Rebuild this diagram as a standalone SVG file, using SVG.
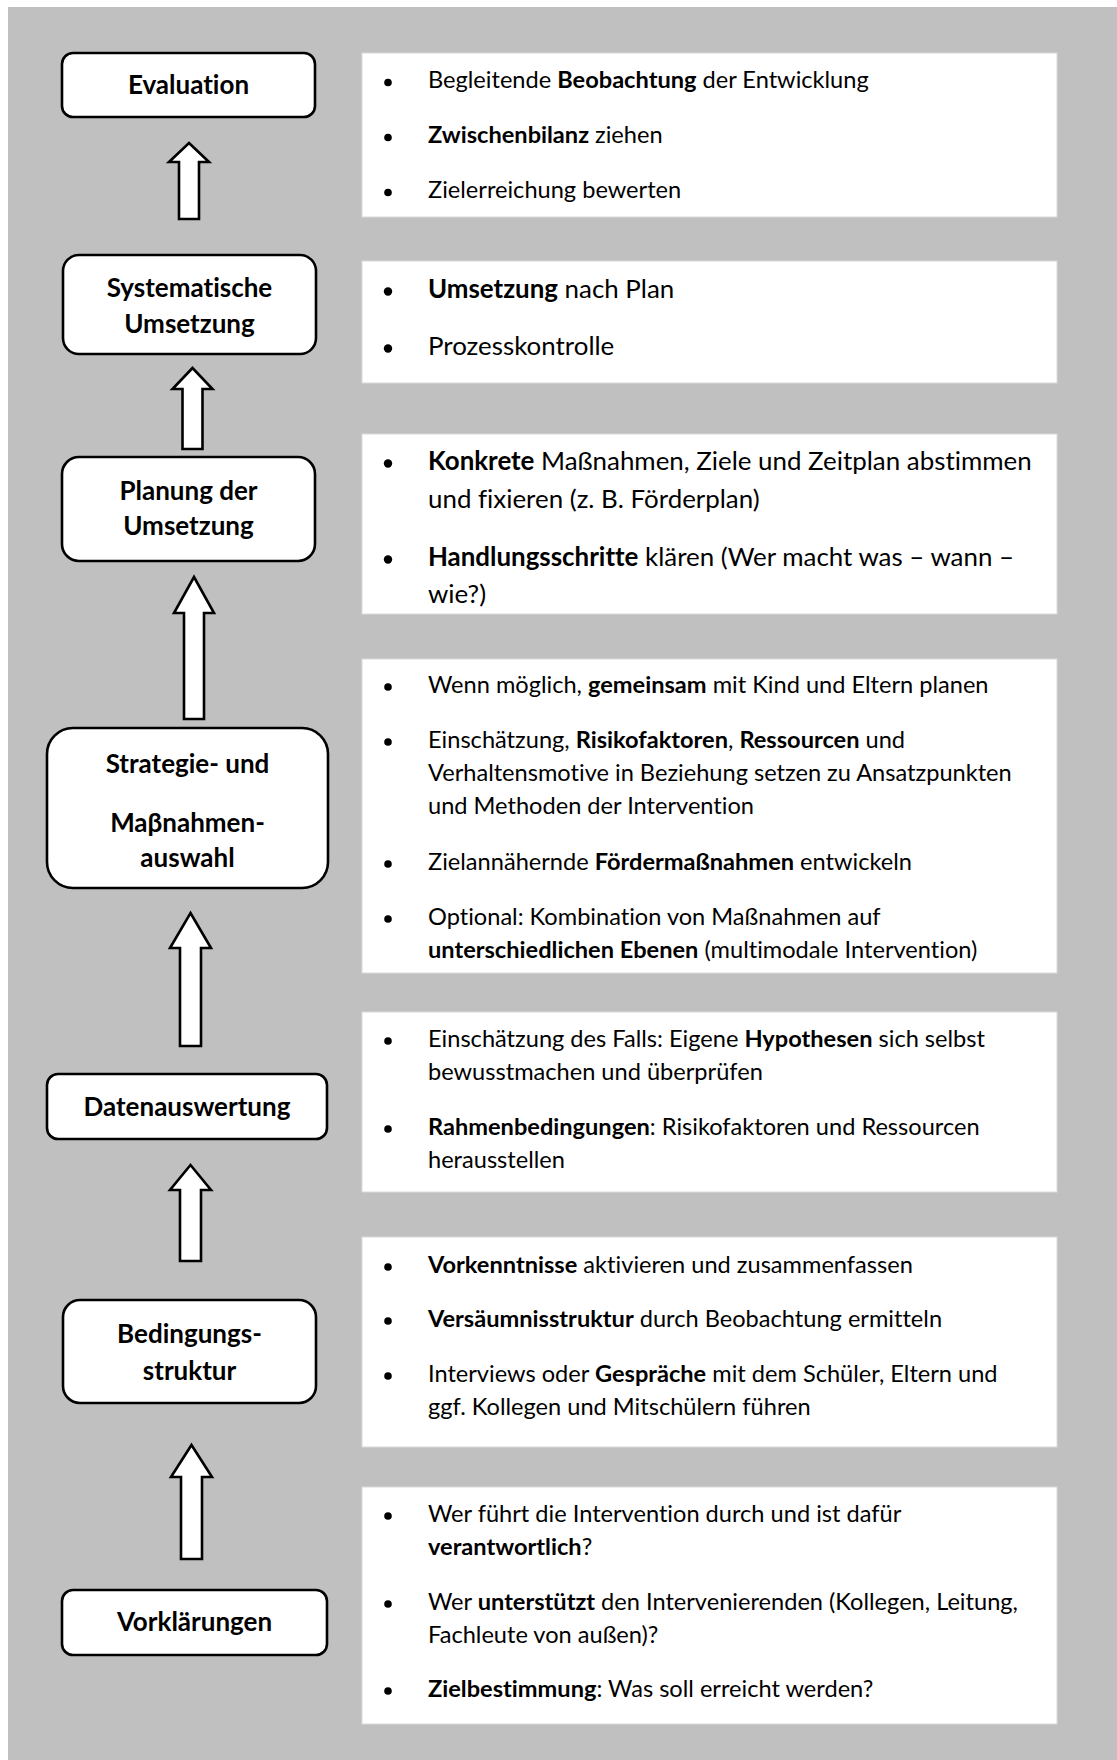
<svg xmlns="http://www.w3.org/2000/svg" width="1117" height="1760" viewBox="0 0 1117 1760">
<style>
text{font-variant-ligatures:none}
.node{fill:#fff;stroke:#000;stroke-width:2.6}
.lbl{font-family:Lato,"Liberation Sans",sans-serif;font-weight:bold;font-size:26px;fill:#000;text-anchor:middle}
.panel{fill:#fff;stroke:#dadada;stroke-width:1}
.t{font-family:Lato,"Liberation Sans",sans-serif;font-size:23.6px;fill:#000}
.t2{font-family:Lato,"Liberation Sans",sans-serif;font-size:25.9px;fill:#000}
.b{font-weight:bold}
.dot{fill:#000}
.arrow{fill:#fff;stroke:#000;stroke-width:2.6;stroke-linejoin:miter}
</style>
<rect x="8" y="7" width="1109" height="1753" fill="#c0c0c0"/>

<g id="connectors">
<path class="arrow" d="M189,143 L209,162 L199,162 L199,219 L179,219 L179,162 L169,162 Z"/>
<path class="arrow" d="M192.5,368 L212.5,389 L202.5,389 L202.5,449 L182.5,449 L182.5,389 L172.5,389 Z"/>
<path class="arrow" d="M194,577 L214,613 L204,613 L204,719 L184,719 L184,613 L174,613 Z"/>
<path class="arrow" d="M190.5,913 L211,948 L201,948 L201,1046 L180,1046 L180,948 L170,948 Z"/>
<path class="arrow" d="M190.5,1165 L211,1190 L201,1190 L201,1261 L180,1261 L180,1190 L170,1190 Z"/>
<path class="arrow" d="M191.5,1445 L212,1477 L202,1477 L202,1559 L181,1559 L181,1477 L171,1477 Z"/>
</g>

<g id="node-evaluation">
<rect class="node" x="62" y="53" width="253" height="64" rx="11"/>
<text class="lbl" x="188.5" y="94">Evaluation</text>
</g>
<g id="node-systematische-umsetzung">
<rect class="node" x="63" y="255" width="253" height="99" rx="16"/>
<text class="lbl" x="189.5" y="297">Systematische</text>
<text class="lbl" x="189.5" y="333">Umsetzung</text>
</g>
<g id="node-planung">
<rect class="node" x="62" y="457" width="253" height="104" rx="17"/>
<text class="lbl" x="188.5" y="500">Planung der</text>
<text class="lbl" x="188.5" y="535">Umsetzung</text>
</g>
<g id="node-strategie">
<rect class="node" x="47" y="728" width="281" height="160" rx="26"/>
<text class="lbl" x="187.5" y="773">Strategie- und</text>
<text class="lbl" x="187.5" y="832">Maβnahmen-</text>
<text class="lbl" x="187.5" y="867">auswahl</text>
</g>
<g id="node-datenauswertung">
<rect class="node" x="47" y="1074" width="280" height="65" rx="11"/>
<text class="lbl" x="187" y="1116">Datenauswertung</text>
</g>
<g id="node-bedingungsstruktur">
<rect class="node" x="63" y="1300" width="253" height="103" rx="17"/>
<text class="lbl" x="189.5" y="1343">Bedingungs-</text>
<text class="lbl" x="189.5" y="1380">struktur</text>
</g>
<g id="node-vorklaerungen">
<rect class="node" x="62" y="1590" width="265" height="65" rx="11"/>
<text class="lbl" x="194.5" y="1631">Vorklärungen</text>
</g>

<g id="panel-evaluation">
<rect class="panel" x="362" y="53" width="695" height="164"/>
<circle class="dot" cx="388" cy="82.5" r="3.8"/>
<circle class="dot" cx="388" cy="137.5" r="3.8"/>
<circle class="dot" cx="388" cy="192.5" r="3.8"/>
<text class="t" x="428" y="88">Begleitende <tspan class="b">Beobachtung</tspan> der Entwicklung</text>
<text class="t" x="428" y="143"><tspan class="b">Zwischenbilanz</tspan> ziehen</text>
<text class="t" x="428" y="198">Zielerreichung bewerten</text>
</g>

<g id="panel-systematische-umsetzung">
<rect class="panel" x="362" y="261" width="695" height="122"/>
<circle class="dot" cx="388" cy="291.5" r="4.2"/>
<circle class="dot" cx="388" cy="348.5" r="4.2"/>
<text class="t2" x="428" y="298"><tspan class="b">Umsetzung</tspan> nach Plan</text>
<text class="t2" x="428" y="355">Prozesskontrolle</text>
</g>

<g id="panel-planung">
<rect class="panel" x="362" y="434" width="695" height="180"/>
<circle class="dot" cx="388" cy="463.5" r="4.2"/>
<circle class="dot" cx="388" cy="559.5" r="4.2"/>
<text class="t2" x="428" y="470"><tspan class="b">Konkrete</tspan> Maßnahmen, Ziele und Zeitplan abstimmen</text>
<text class="t2" x="428" y="508">und fixieren (z. B. Förderplan)</text>
<text class="t2" x="428" y="566"><tspan class="b">Handlungsschritte</tspan> klären (Wer macht was – wann –</text>
<text class="t2" x="428" y="603">wie?)</text>
</g>

<g id="panel-strategie">
<rect class="panel" x="362" y="659" width="695" height="314"/>
<circle class="dot" cx="388" cy="687" r="3.8"/>
<circle class="dot" cx="388" cy="742" r="3.8"/>
<circle class="dot" cx="388" cy="864" r="3.8"/>
<circle class="dot" cx="388" cy="919" r="3.8"/>
<text class="t" x="428" y="693">Wenn möglich, <tspan class="b">gemeinsam</tspan> mit Kind und Eltern planen</text>
<text class="t" x="428" y="748">Einschätzung, <tspan class="b">Risikofaktoren</tspan>, <tspan class="b">Ressourcen</tspan> und</text>
<text class="t" x="428" y="781">Verhaltensmotive in Beziehung setzen zu Ansatzpunkten</text>
<text class="t" x="428" y="814">und Methoden der Intervention</text>
<text class="t" x="428" y="870">Zielannähernde <tspan class="b">Fördermaßnahmen</tspan> entwickeln</text>
<text class="t" x="428" y="925">Optional: Kombination von Maßnahmen auf</text>
<text class="t" x="428" y="958"><tspan class="b">unterschiedlichen Ebenen</tspan> (multimodale Intervention)</text>
</g>

<g id="panel-datenauswertung">
<rect class="panel" x="362" y="1012" width="695" height="180"/>
<circle class="dot" cx="388" cy="1041" r="3.8"/>
<circle class="dot" cx="388" cy="1129" r="3.8"/>
<text class="t" x="428" y="1047">Einschätzung des Falls: Eigene <tspan class="b">Hypothesen</tspan> sich selbst</text>
<text class="t" x="428" y="1080">bewusstmachen und überprüfen</text>
<text class="t" x="428" y="1135"><tspan class="b">Rahmenbedingungen</tspan>: Risikofaktoren und Ressourcen</text>
<text class="t" x="428" y="1168">herausstellen</text>
</g>

<g id="panel-bedingungsstruktur">
<rect class="panel" x="362" y="1237" width="695" height="210"/>
<circle class="dot" cx="388" cy="1267" r="3.8"/>
<circle class="dot" cx="388" cy="1321" r="3.8"/>
<circle class="dot" cx="388" cy="1376" r="3.8"/>
<text class="t" x="428" y="1273"><tspan class="b">Vorkenntnisse</tspan> aktivieren und zusammenfassen</text>
<text class="t" x="428" y="1327"><tspan class="b">Versäumnisstruktur</tspan> durch Beobachtung ermitteln</text>
<text class="t" x="428" y="1382">Interviews oder <tspan class="b">Gespräche</tspan> mit dem Schüler, Eltern und</text>
<text class="t" x="428" y="1415">ggf. Kollegen und Mitschülern führen</text>
</g>

<g id="panel-vorklaerungen">
<rect class="panel" x="362" y="1487" width="695" height="237"/>
<circle class="dot" cx="388" cy="1516" r="3.8"/>
<circle class="dot" cx="388" cy="1604" r="3.8"/>
<circle class="dot" cx="388" cy="1691" r="3.8"/>
<text class="t" x="428" y="1522">Wer führt die Intervention durch und ist dafür</text>
<text class="t" x="428" y="1555"><tspan class="b">verantwortlich</tspan>?</text>
<text class="t" x="428" y="1610">Wer <tspan class="b">unterstützt</tspan> den Intervenierenden (Kollegen, Leitung,</text>
<text class="t" x="428" y="1643">Fachleute von außen)?</text>
<text class="t" x="428" y="1697"><tspan class="b">Zielbestimmung</tspan>: Was soll erreicht werden?</text>
</g>
</svg>
